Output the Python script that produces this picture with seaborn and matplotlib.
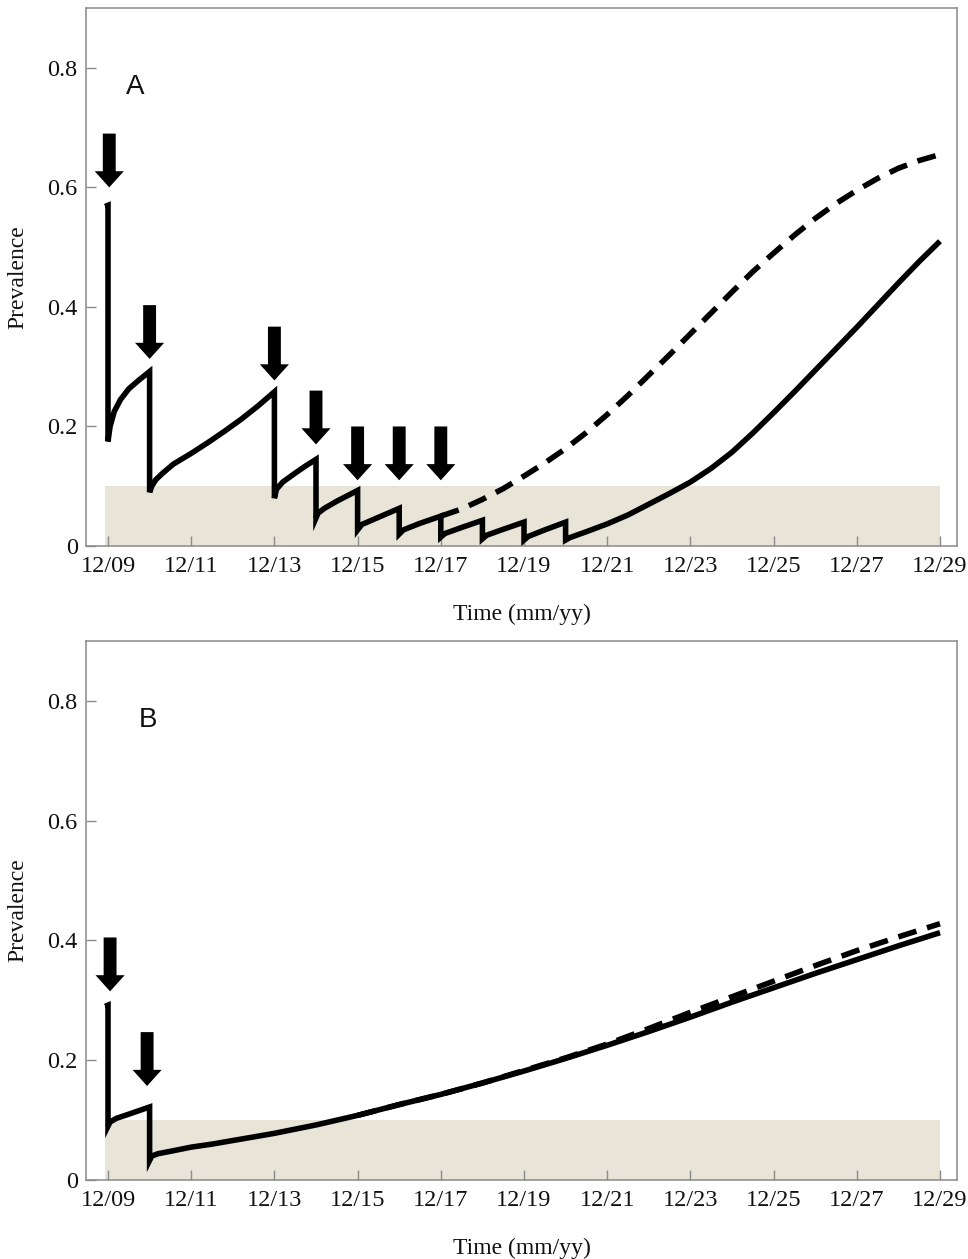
import numpy as np
import pandas as pd
import seaborn as sns
import matplotlib.pyplot as plt

# panel A: solid = continued treatment, dashed = treatment stopped after 12/17
a_solid_x = [2008.93, 2009.0, 2009.0, 2009.05, 2009.15, 2009.3, 2009.5, 2009.75, 2010.0,
             2010.0, 2010.05, 2010.15, 2010.3, 2010.57, 2011.0, 2011.4, 2011.8, 2012.2, 2012.6, 2013.0,
             2013.0, 2013.05, 2013.2, 2013.5, 2013.75, 2014.0,
             2014.0, 2014.05, 2014.2, 2014.5, 2014.75, 2015.0,
             2015.0, 2015.1, 2015.5, 2016.0,
             2016.0, 2016.1, 2016.5, 2017.0,
             2017.0, 2017.1, 2017.5, 2018.0,
             2018.0, 2018.1, 2018.5, 2019.0,
             2019.0, 2019.1, 2019.5, 2020.0,
             2020.0, 2020.1, 2020.5, 2021.0, 2021.5, 2022.0, 2022.5, 2023.0, 2023.5, 2024.0,
             2024.5, 2025.0, 2025.5, 2026.0, 2026.5, 2027.0, 2027.5, 2028.0, 2028.5, 2029.0]
a_solid_y = [0.568, 0.570, 0.175, 0.200, 0.225, 0.245, 0.263, 0.278, 0.292,
             0.090, 0.100, 0.111, 0.121, 0.137, 0.155, 0.173, 0.192, 0.212, 0.234, 0.258,
             0.080, 0.095, 0.107, 0.122, 0.134, 0.145,
             0.047, 0.055, 0.063, 0.075, 0.084, 0.093,
             0.027, 0.036, 0.048, 0.063,
             0.020, 0.027, 0.038, 0.050,
             0.015, 0.021, 0.031, 0.043,
             0.012, 0.018, 0.028, 0.040,
             0.010, 0.016, 0.027, 0.040,
             0.010, 0.014, 0.024, 0.037, 0.052, 0.070, 0.088, 0.107, 0.130, 0.157,
             0.189, 0.223, 0.258, 0.294, 0.330, 0.366, 0.403, 0.440, 0.476, 0.510]
a_dash_x = [2017.0, 2017.5, 2018.0, 2018.5, 2019.0, 2019.5, 2020.0, 2020.5, 2021.0, 2021.5,
            2022.0, 2022.5, 2023.0, 2023.5, 2024.0, 2024.5, 2025.0, 2025.5, 2026.0, 2026.5,
            2027.0, 2027.5, 2028.0, 2028.5, 2029.0]
a_dash_y = [0.050, 0.062, 0.078, 0.096, 0.117, 0.139, 0.163, 0.190, 0.220, 0.252,
            0.286, 0.320, 0.355, 0.390, 0.425, 0.459, 0.490, 0.520, 0.548, 0.573,
            0.595, 0.615, 0.632, 0.645, 0.655]
a_arrow_x = [2009.03, 2010.0, 2013.0, 2014.0, 2015.0, 2016.0, 2017.0]
a_arrow_tip = [0.600, 0.313, 0.277, 0.170, 0.110, 0.110, 0.110]

# panel B
b_solid_x = [2008.93, 2009.0, 2009.0, 2009.05, 2009.2, 2009.5, 2009.75, 2010.0,
             2010.0, 2010.05, 2010.2, 2010.5, 2011.0, 2011.5, 2012.0, 2012.5, 2013.0,
             2013.5, 2014.0, 2014.5, 2015.0, 2016.0, 2017.0, 2018.0, 2019.0, 2020.0,
             2021.0, 2022.0, 2023.0, 2024.0, 2025.0, 2026.0, 2027.0, 2028.0, 2029.0]
b_solid_y = [0.290, 0.292, 0.090, 0.097, 0.103, 0.110, 0.116, 0.122,
             0.033, 0.040, 0.044, 0.048, 0.055, 0.060, 0.066, 0.072, 0.078,
             0.085, 0.092, 0.100, 0.108, 0.126, 0.143, 0.162, 0.182, 0.203,
             0.225, 0.248, 0.272, 0.297, 0.321, 0.345, 0.368, 0.391, 0.413]
b_dash_x = [2015.0, 2016.0, 2017.0, 2018.0, 2019.0, 2020.0, 2021.0, 2022.0, 2023.0,
            2024.0, 2025.0, 2026.0, 2027.0, 2028.0, 2029.0]
b_dash_y = [0.108, 0.126, 0.143, 0.162, 0.183, 0.204, 0.227, 0.253, 0.280,
            0.306, 0.332, 0.358, 0.383, 0.406, 0.428]
b_arrow_x = [2009.05, 2009.94]
b_arrow_tip = [0.315, 0.157]

tick_years = list(range(2009, 2030, 2))
tick_labels = ["12/%02d" % (y - 2000) for y in tick_years]
y_ticks = [0, 0.2, 0.4, 0.6, 0.8]
y_labels = ["0", "0.2", "0.4", "0.6", "0.8"]

sns.set_style("white")
plt.rcParams["font.family"] = ["Liberation Serif", "DejaVu Serif"]

fig = plt.figure(figsize=(9.68, 12.59), dpi=100)
axA = fig.add_axes([0.0888, 0.5663, 0.8999, 0.4273])
axB = fig.add_axes([0.0888, 0.0627, 0.8999, 0.4282])

grey = "#8a8a8a"
panels = [
    (axA, "A", 2009.65, a_solid_x, a_solid_y, a_dash_x, a_dash_y, a_arrow_x, a_arrow_tip),
    (axB, "B", 2009.95, b_solid_x, b_solid_y, b_dash_x, b_dash_y, b_arrow_x, b_arrow_tip),
]

for ax, letter, lx, sx, sy, dx, dy, arx, art in panels:
    ax.set_axisbelow(False)
    # target band below 0.1
    ax.fill_between([2008.92, 2029.0], 0, 0.1, color="#e8e5d8", lw=0, zorder=1)
    sol = pd.DataFrame({"t": sx, "p": sy})
    das = pd.DataFrame({"t": dx, "p": dy})
    sns.lineplot(data=das, x="t", y="p", ax=ax, color="black", lw=4.0,
                 estimator=None, sort=False, zorder=3)
    ax.lines[-1].set_dashes([3.4, 2.0])
    ax.lines[-1].set_dash_capstyle("butt")
    sns.lineplot(data=sol, x="t", y="p", ax=ax, color="black", lw=4.0,
                 estimator=None, sort=False, zorder=4)
    ax.lines[-1].set_solid_joinstyle("miter")
    ax.lines[-1].set_solid_capstyle("butt")
    for x, tip in zip(arx, art):
        ax.arrow(x, tip + 0.09, 0, -0.09, width=0.31, head_width=0.70,
                 head_length=0.027, length_includes_head=True,
                 fc="black", ec="black", lw=0, zorder=5)
    ax.text(lx, 0.768, letter, fontsize=20, family=["Liberation Sans", "DejaVu Sans"],
            ha="center", va="center", color="#111111")

    ax.set_xlim(2008.47, 2029.41)
    ax.set_ylim(0, 0.9)
    ax.set_xticks(tick_years)
    ax.set_xticklabels(tick_labels)
    ax.set_yticks(y_ticks)
    ax.set_yticklabels(y_labels)
    ax.tick_params(bottom=True, left=True, top=False, right=False,
                   direction="in", length=7, width=1, color=grey,
                   labelsize=17.5, labelcolor="#111111")
    ax.tick_params(axis="x", pad=7)
    ax.tick_params(axis="y", pad=6)
    for s in ax.spines.values():
        s.set_color(grey)
        s.set_linewidth(1.1)
    ax.set_xlabel("Time (mm/yy)", fontsize=17, color="#111111")
    ax.set_ylabel("Prevalence", fontsize=17, color="#111111")
    ax.xaxis.set_label_coords(0.5, -0.108)
    ax.yaxis.set_label_coords(-0.066, 0.5)

fig.savefig("out.png", dpi=100)
